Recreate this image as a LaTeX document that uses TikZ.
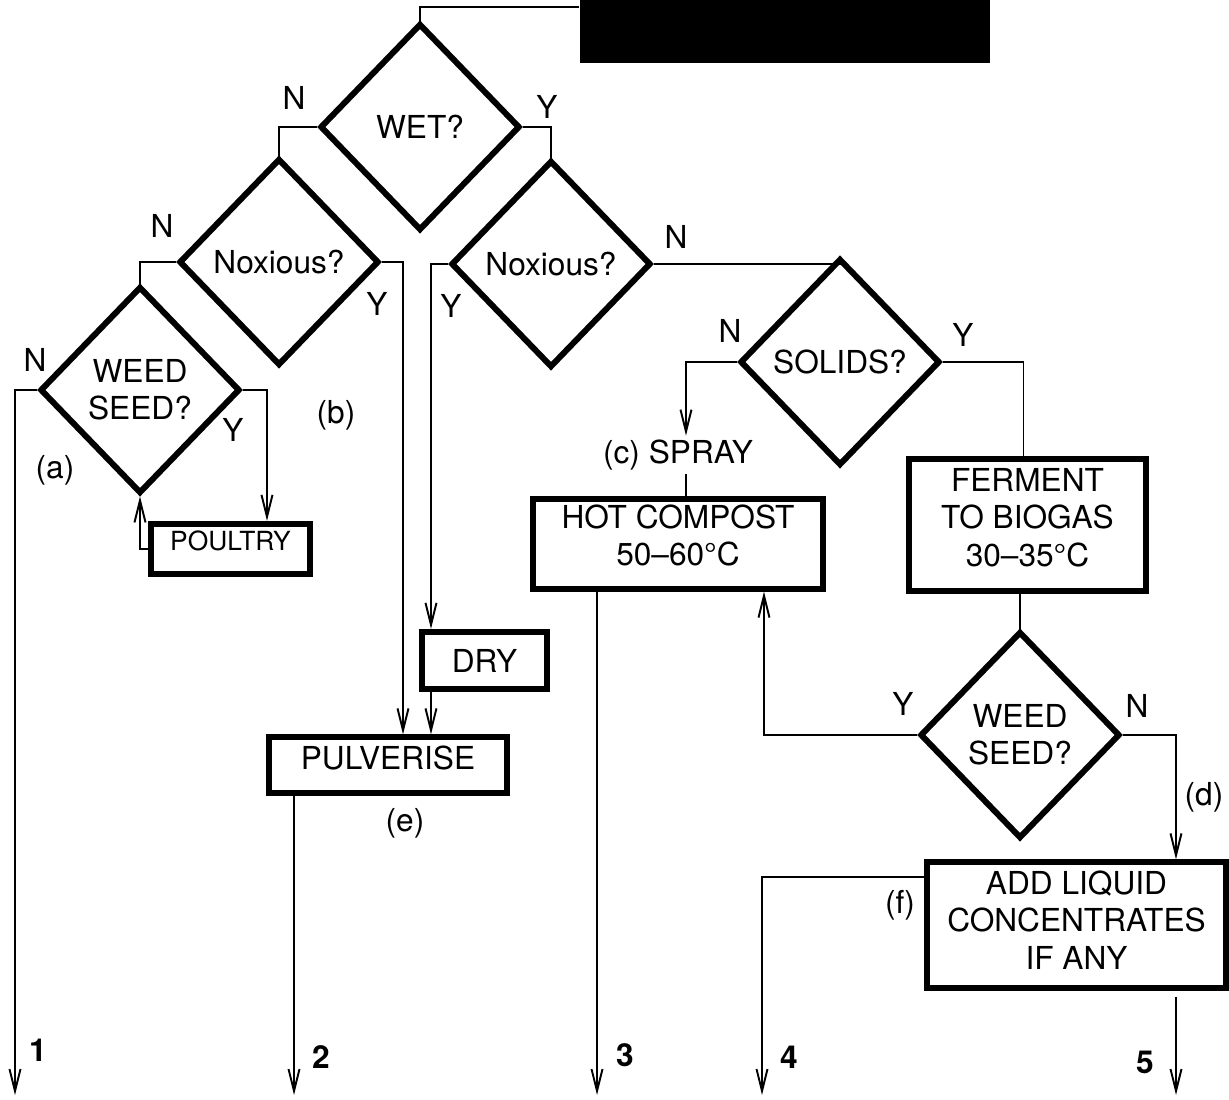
\documentclass[tikz,border=0pt]{standalone}
\usepackage{fontspec}
\setmainfont{TeX Gyre Heros}
\usetikzlibrary{shapes.geometric,arrows.meta}
\tikzset{
  dec/.style={draw, diamond, line width=1.7pt, minimum width=2cm, minimum height=2.07cm, inner sep=0pt, align=center},
  stepbox/.style={draw, rectangle, line width=1.5pt, inner sep=0pt, align=center},
  conn/.style={line width=0.55pt},
  arr/.style={conn, -{Straight Barb[length=2.2mm,width=1.1mm]}},
  lbl/.style={inner sep=1pt},
  outnum/.style={inner sep=1pt, font=\fontsize{9}{10.6}\selectfont\bfseries}
}
\begin{document}
\begin{tikzpicture}[font=\fontsize{9}{10.6}\selectfont]
\useasboundingbox (0,0) rectangle (12.29,10.99);
\node[fill=black, minimum width=4.1cm, minimum height=0.63cm, inner sep=0pt] (title) at (7.85,10.675) {};
\node[dec] (wet) at (4.20,9.72) {WET?};
\node[dec] (noxL) at (2.79,8.37) {Noxious?};
\node[dec] (noxR) at (5.51,8.35) {Noxious?};
\node[dec] (weedL) at (1.40,7.09) {WEED\\SEED?};
\node[dec] (solids) at (8.40,7.37) {SOLIDS?};
\node[dec] (weedR) at (10.20,3.64) {WEED\\SEED?};
\node[stepbox, line width=1.8pt, minimum width=1.59cm, minimum height=0.50cm, text depth=4.6pt, font=\fontsize{7.5}{9}\selectfont] (poultry) at (2.305,5.50) {POULTRY};
\node[stepbox, minimum width=2.90cm, minimum height=0.90cm, text depth=5.1pt] (compost) at (6.78,5.55) {HOT COMPOST\\50--60°C};
\node[stepbox, minimum width=2.37cm, minimum height=1.32cm, text depth=4.3pt] (ferment) at (10.275,5.74) {FERMENT\\TO BIOGAS\\30--35°C};
\node[stepbox, line width=1.8pt, minimum width=1.25cm, minimum height=0.57cm] (dry) at (4.845,4.385) {DRY};
\node[stepbox, minimum width=2.38cm, minimum height=0.56cm, text depth=4pt] (pulv) at (3.88,3.34) {PULVERISE};
\node[stepbox, minimum width=2.99cm, minimum height=1.26cm, text depth=2.8pt] (liquid) at (10.765,1.74) {ADD LIQUID\\CONCENTRATES\\IF ANY};
\node[lbl] (spray) at (6.78,6.44) {(c) SPRAY};
\coordinate (out1) at (0.15,0.04);
\coordinate (out2) at (2.94,0.04);
\coordinate (out3) at (5.97,0.04);
\coordinate (out4) at (7.62,0.04);
\coordinate (out5) at (11.76,0.04);
\draw[conn] ([yshift=-0.8mm]title.north west) -| (wet.north);
\draw[conn] (wet.west) -| (noxL.north);
\draw[conn] (wet.east) -| (noxR.north);
\draw[conn] (noxL.west) -| (weedL.north);
\draw[arr] (noxL.east) -| ([xshift=1.5mm]pulv.north);
\draw[arr] (noxR.west) -| ([xshift=-5.35mm]dry.north);
\draw[arr] ([xshift=-5.35mm]dry.south) -- ([xshift=-5.35mm]dry.south |- pulv.north);
\draw[conn] (noxR.east) -| (solids.north);
\draw[arr] (weedL.west) -| (out1);
\draw[arr] (weedL.east) -| ([xshift=3.65mm]poultry.north);
\draw[arr] (poultry.west) -| (weedL.south);
\draw[arr] (pulv.south -| out2) -- (out2);
\draw[arr] (solids.west) -| ([xshift=0.8mm]spray.north);
\draw[conn] ([xshift=0.8mm]spray.south) -- ([xshift=0.8mm]compost.north);
\draw[conn] (solids.east) -| ([xshift=-0.4mm]ferment.north);
\draw[conn] (ferment.south -| weedR.north) -- (weedR.north);
\draw[arr] (compost.south -| out3) -- (out3);
\draw[arr] (weedR.west) -| ([xshift=8.6mm]compost.south);
\draw[arr] (weedR.east) -| ([xshift=9.95mm]liquid.north);
\draw[arr] ([yshift=4.8mm]liquid.west) -| (out4);
\draw[arr] ([yshift=-0.6mm]liquid.south -| out5) -- (out5);
\node[lbl] (wetN) at (2.94,10.01) {N};
\node[lbl] (wetY) at (5.47,9.92) {Y};
\node[lbl] (noxLN) at (1.62,8.73) {N};
\node[lbl] (noxLY) at (3.77,7.95) {Y};
\node[lbl] (noxRY) at (4.51,7.93) {Y};
\node[lbl] (noxRN) at (6.76,8.62) {N};
\node[lbl] (weedLN) at (0.35,7.39) {N};
\node[lbl] (weedLY) at (2.33,6.69) {Y};
\node[lbl] (solN) at (7.30,7.68) {N};
\node[lbl] (solY) at (9.63,7.64) {Y};
\node[lbl] (weedRY) at (9.03,3.95) {Y};
\node[lbl] (weedRN) at (11.37,3.93) {N};
\node[lbl] (pa) at (0.55,6.29) {(a)};
\node[lbl] (pb) at (3.36,6.84) {(b)};
\node[lbl] (pd) at (12.04,3.02) {(d)};
\node[lbl] (pe) at (4.05,2.76) {(e)};
\node[lbl] (pf) at (9.00,1.94) {(f)};
\node[outnum] (n1) at (0.38,0.49) {1};
\node[outnum] (n2) at (3.21,0.42) {2};
\node[outnum] (n3) at (6.25,0.44) {3};
\node[outnum] (n4) at (7.89,0.42) {4};
\node[outnum] (n5) at (11.45,0.37) {5};
\end{tikzpicture}
\end{document}
